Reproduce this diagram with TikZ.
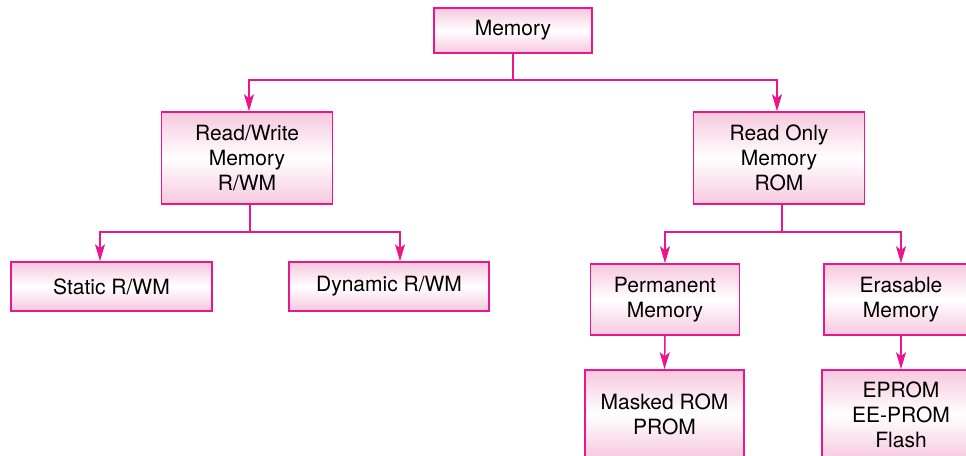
\documentclass[tikz,border=0pt]{standalone}
\usepackage{fontspec}
\setmainfont{TeX Gyre Heros}
\usetikzlibrary{arrows.meta}

\definecolor{memLine}{RGB}{234,22,140}
\definecolor{memFill}{RGB}{246,200,222}

\begin{document}
\begin{tikzpicture}[
    x=1pt, y=-1pt,
    membox/.style={
        draw=memLine,
        line width=1.5pt,
        top color=memFill,
        bottom color=memFill,
        middle color=white,
        align=center,
        inner sep=0pt,
        font=\fontsize{21}{25}\selectfont
    },
    conn/.style={memLine, line width=1.5pt},
    arr/.style={conn, -{Stealth[length=17pt, width=10pt, inset=4pt]}}
]

% Frame
\clip (0,0) rectangle (966,455);

% Top level
\node[membox, minimum width=158pt, minimum height=45pt] (mem) at (513,30.5) {Memory};

% Second level
\node[membox, minimum width=171pt, minimum height=92pt] (rwm) at (247,158)
    {Read/Write\\Memory\\R/WM};
\node[membox, minimum width=171pt, minimum height=92pt] (rom) at (779,158)
    {Read Only\\Memory\\ROM};

% Third level
\node[membox, minimum width=201pt, minimum height=49pt] (static) at (111.5,286.5)
    {Static R/WM};
\node[membox, minimum width=200pt, minimum height=49pt] (dynamic) at (389,286.5)
    {Dynamic R/WM};
\node[membox, minimum width=149pt, minimum height=71pt] (perm) at (665,299.5)
    {Permanent\\Memory};
\node[membox, minimum width=154pt, minimum height=71pt] (eras) at (901,299.5)
    {Erasable\\Memory};

% Bottom level
\node[membox, minimum width=159pt, minimum height=88pt] (masked) at (664.5,414)
    {Masked ROM\\PROM};
\node[membox, minimum width=158pt, minimum height=90pt] (eprom) at (901,415)
    {EPROM\\EE-PROM\\Flash};

% Junctions
\coordinate (memJ) at (513,80);
\coordinate (rwmJ) at (250,232);
\coordinate (romJ) at (782,232);

% Memory branches
\draw[conn] (mem.south) -- (memJ);
\draw[arr] (memJ) -| ([xshift=2pt]rwm.north);
\draw[arr] (memJ) -| ([xshift=-2pt]rom.north);

% R/WM branches
\draw[conn] (rwmJ |- rwm.south) -- (rwmJ);
\draw[arr] (rwmJ) -| ([xshift=-11.5pt]static.north);
\draw[arr] (rwmJ) -| ([xshift=11pt]dynamic.north);

% ROM branches
\draw[conn] (romJ |- rom.south) -- (romJ);
\draw[arr] (romJ) -| (perm.north);
\draw[arr] (romJ) -| (eras.north);

% Last row
\draw[arr] (perm.south) -- (masked.north);
\draw[arr] (eras.south) -- (eprom.north);

\end{tikzpicture}
\end{document}
